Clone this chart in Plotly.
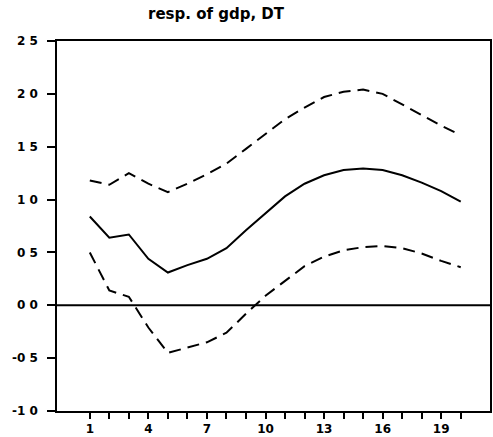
import plotly.graph_objects as go

steps = list(range(1, 21))
resp = [0.84, 0.64, 0.67, 0.44, 0.31, 0.38, 0.44, 0.54, 0.71, 0.87, 1.03, 1.15, 1.23, 1.28, 1.295, 1.28, 1.23, 1.16, 1.08, 0.98]
upper = [1.18, 1.14, 1.25, 1.15, 1.07, 1.15, 1.24, 1.34, 1.48, 1.62, 1.76, 1.87, 1.97, 2.02, 2.04, 2.00, 1.90, 1.80, 1.70, 1.61]
lower = [0.50, 0.14, 0.08, -0.21, -0.45, -0.40, -0.35, -0.26, -0.08, 0.09, 0.23, 0.37, 0.46, 0.52, 0.55, 0.56, 0.54, 0.49, 0.42, 0.36]

x_labels = {1: "1", 4: "4", 7: "7", 10: "10", 13: "13", 16: "16", 19: "19"}
y_vals = [2.5, 2.0, 1.5, 1.0, 0.5, 0.0, -0.5, -1.0]
y_text = ["2 5", "2 0", "1 5", "1 0", "0 5", "0 0", "-0 5", "-1 0"]
title = "resp. of gdp, DT"

fig = go.Figure()
fig.add_hline(y=0, line=dict(color="black", width=2))
fig.add_trace(go.Scatter(x=steps, y=upper, mode="lines",
                         line=dict(color="black", width=2, dash="12px,7px")))
fig.add_trace(go.Scatter(x=steps, y=lower, mode="lines",
                         line=dict(color="black", width=2, dash="12px,7px")))
fig.add_trace(go.Scatter(x=steps, y=resp, mode="lines",
                         line=dict(color="black", width=2)))

font = dict(family="DejaVu Sans", size=12, color="black", weight="bold")

fig.update_layout(
    width=493, height=437,
    margin=dict(l=57, r=1, t=41, b=25),
    paper_bgcolor="white", plot_bgcolor="white",
    showlegend=False,
    font=font,
    xaxis=dict(range=[-0.68, 21.5], tickvals=steps,
               ticktext=[x_labels.get(s, "") for s in steps],
               ticks="outside", ticklen=6, tickwidth=1.5, tickcolor="black",
               showline=True, linecolor="black", linewidth=1.5, mirror=True,
               showgrid=False, zeroline=False, tickfont=font),
    yaxis=dict(range=[-1.0, 2.5], tickvals=y_vals, ticktext=y_text,
               ticks="outside", ticklen=8, tickwidth=1.5, tickcolor="black",
               ticklabelstandoff=7,
               showline=True, linecolor="black", linewidth=1.5, mirror=True,
               showgrid=False, zeroline=False, tickfont=font),
    annotations=[dict(text=title, xref="paper", yref="paper", x=0.368, y=1.0,
                      yshift=27, xanchor="center", yanchor="middle", showarrow=False,
                      font=dict(family="DejaVu Sans", size=15, color="black", weight="bold"))],
)

fig.write_html("out.html")
